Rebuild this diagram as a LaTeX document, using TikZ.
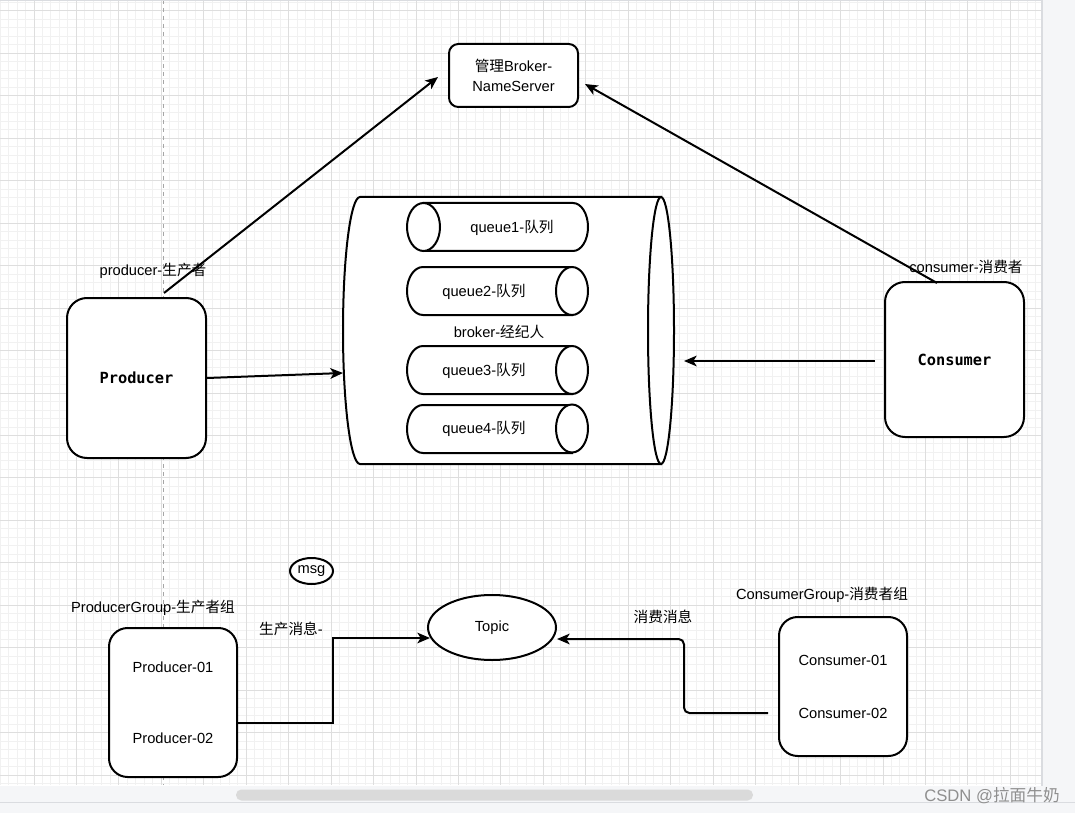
\documentclass[tikz,border=0pt]{standalone}
\usepackage{fontspec}
\setmainfont{Liberation Sans}
\newfontfamily\cjk{Noto Sans CJK SC}
\newfontfamily\monof{DejaVu Sans Mono}
\usetikzlibrary{arrows.meta,shapes.geometric}
\definecolor{gminorc}{HTML}{F1F1F1}
\definecolor{gmajorc}{HTML}{DEDEDE}
\definecolor{stripc}{HTML}{F5F6F8}
\definecolor{edgec}{HTML}{DADCE0}
\definecolor{thumbc}{HTML}{DADADA}
\definecolor{wmc}{HTML}{8F8F8F}
\tikzset{
  gminor/.style={draw=gminorc, line width=0.75pt},
  gmajor/.style={draw=gmajorc, line width=0.75pt},
  box/.style={draw=black, line width=1.5pt, fill=white, inner sep=0pt},
  shp/.style={draw=black, line width=1.5pt, fill=white},
  lbl/.style={inner sep=0pt, font=\fontsize{11}{15}\selectfont},
  boldlbl/.style={font=\fontsize{11.5}{14}\selectfont\monof\bfseries},
  arr/.style={line width=1.5pt, -{Stealth[length=9.5pt,width=8pt,inset=2.5pt]}},
}
\begin{document}
\begin{tikzpicture}[x=0.75pt,y=-0.75pt]
\useasboundingbox (0,0) rectangle (1075,813);
\fill[white] (0,0) rectangle (1075,813);
% grid
\begin{scope}
\clip (0,0) rectangle (1041,785);
\foreach \i in {-4,...,120} \draw[gminor] ({34+8.49*\i},0) -- ({34+8.49*\i},785);
\foreach \i in {-2,...,93} \draw[gminor] (0,{11+8.49*\i}) -- (1041,{11+8.49*\i});
\foreach \i in {-1,...,24} \draw[gmajor] ({34+42.45*\i},0) -- ({34+42.45*\i},785);
\foreach \i in {-1,...,18} \draw[gmajor] (0,{11+42.45*\i}) -- (1041,{11+42.45*\i});
\end{scope}
\draw[gray!70, dashed, line width=0.75pt] (163,0) -- (163,785);
\draw[edgec, line width=0.75pt] (0,0.5) -- (1041,0.5);
% window strips
\fill[stripc] (1042,0) rectangle (1075,813);
\draw[edgec, line width=1.2pt] (1042,0) -- (1042,786);
\fill[stripc] (0,786) rectangle (1075,813);
\draw[edgec, line width=0.75pt] (0,802) -- (1075,802);
\fill[thumbc, rounded corners=4pt] (236,789.5) rectangle (753,800.5);

% NameServer
\node[box, rounded corners=7pt, minimum width=96.75pt, minimum height=47.25pt, align=center, font=\fontsize{11}{15}\selectfont] (ns) at (513.5,75.5) {{\cjk 管理}Broker-\\NameServer};

% Producer / Consumer
\node[box, rounded corners=15pt, minimum width=104.25pt, minimum height=120pt, boldlbl] (producer) at (136.5,378) {Producer};
\node[box, rounded corners=15pt, minimum width=104.25pt, minimum height=116.25pt, boldlbl] (consumer) at (954.5,359.5) {Consumer};
\node[lbl] (plabel) at (153,271) {producer-{\cjk 生产者}};
\node[lbl] (clabel) at (966,267) {consumer-{\cjk 消费者}};

% Broker cylinder
\draw[shp] (360,197) -- (661,197) -- (661,464) -- (360,464)
  arc[start angle=270, end angle=90, x radius=12.75pt, y radius=100.125pt] -- cycle;
\draw[shp] (661,330.5) ellipse [x radius=9.75pt, y radius=100.125pt];
\node[lbl] (broker) at (499,332) {broker-{\cjk 经纪人}};

% queue1
\draw[shp] (423.5,203) -- (573,203)
  arc[start angle=90, end angle=-90, x radius=11.25pt, y radius=18pt] -- (423.5,251) -- cycle;
\draw[shp] (423.5,227) ellipse [x radius=12.375pt, y radius=18pt];
\node[lbl] (q1) at (512,228) {queue1-{\cjk 队列}};
% queue2..4
\foreach \t/\c/\n in {267/291/2, 346/370/3, 405/428.5/4}{
  \draw[shp] (423,\t) -- (572,\t) -- (572,{\t+48}) -- (423,{\t+48})
    arc[start angle=270, end angle=90, x radius=12pt, y radius=18pt] -- cycle;
  \draw[shp] (572,\c) ellipse [x radius=12pt, y radius=18pt];
  \node[lbl] (q\n) at (484,{\c+0.5}) {queue\n-{\cjk 队列}};
}

% top arrows
\coordinate (p1) at (164,293);
\coordinate (ns1) at (438,77);
\draw[arr] (p1) -- (ns1);
\coordinate (c1) at (937,283);
\coordinate (ns2) at (585,84);
\draw[arr] (c1) -- (ns2);
\coordinate (bin) at (343,373);
\draw[arr] (producer.east) -- (bin);
\coordinate (cout) at (875,361);
\coordinate (bout) at (684,361);
\draw[arr] (cout) -- (bout);

% bottom part
\node[shp, ellipse, minimum width=32.25pt, minimum height=19.5pt, inner sep=0pt, font=\fontsize{11}{15}\selectfont] (msg) at (311.5,571) {msg};
\node[lbl] (pglabel) at (153,608) {ProducerGroup-{\cjk 生产者组}};
\node[lbl] (prodmsg) at (291,629) {{\cjk 生产消息}-};
\node[box, rounded corners=14pt, minimum width=96pt, minimum height=111.75pt] (pgroup) at (173,702.5) {};
\node[lbl] (p01) at (173,667) {Producer-01};
\node[lbl] (p02) at (173,738) {Producer-02};

\node[shp, ellipse, minimum width=96pt, minimum height=48.75pt, inner sep=0pt, font=\fontsize{11}{15}\selectfont] (topic) at (492,627.5) {Topic};

\node[lbl] (consmsg) at (663,617) {{\cjk 消费消息}};
\node[lbl] (cglabel) at (822,595) {ConsumerGroup-{\cjk 消费者组}};
\node[box, rounded corners=14pt, minimum width=96pt, minimum height=104.25pt] (cgroup) at (843,686.5) {};
\node[lbl] (c01) at (843,660) {Consumer-01};
\node[lbl] (c02) at (843,713) {Consumer-02};

\coordinate (pgout) at (237,723);
\coordinate (tin) at (430,638);
\draw[arr] (pgout) -- (333,723) -- (333,638) -- (tin);
\coordinate (cgout) at (768,713);
\coordinate (tin2) at (557,639);
\draw[arr, rounded corners=4pt] (cgout) -- (684,713) -- (684,639) -- (tin2);

% watermark
\node[inner sep=0pt, text=wmc, font=\fontsize{12.5}{14}\selectfont] (wm) at (992,796) {CSDN @{\cjk 拉面牛奶}};
\end{tikzpicture}
\end{document}
